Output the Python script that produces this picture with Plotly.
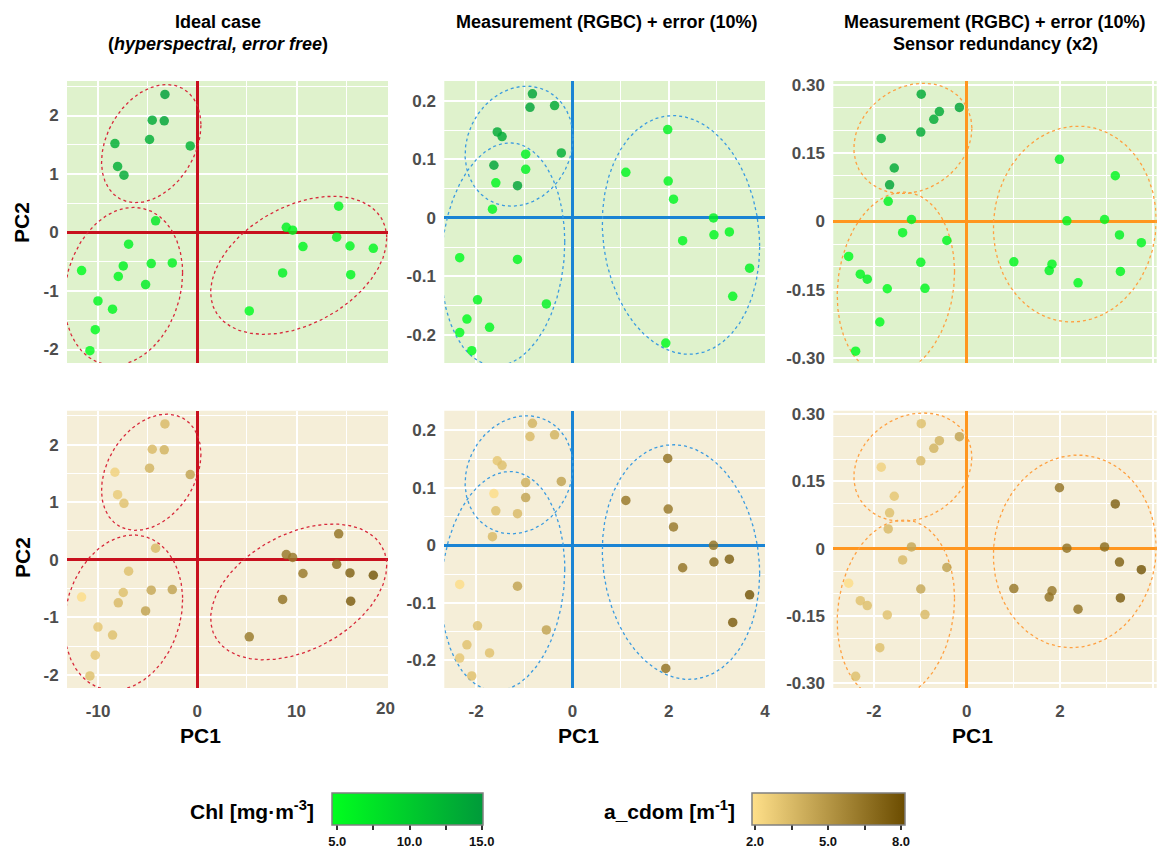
import numpy as np
import plotly.graph_objects as go

# ---------------- data ----------------
# Panel 1: Ideal case (hyperspectral, error free)
p1_pc1 = [-3.26, -4.54, -3.33, -4.81, -8.30, -0.71, -8.03, -7.39,
          -4.20, -6.92, -11.66, -7.46, -4.64, -2.52, -7.96, -5.21, -10.01, -8.54, -10.28, -10.82,
          14.25, 8.97, 9.61, 10.65, 14.05, 15.39, 17.74, 8.60, 15.46, 5.24]
p1_pc2 = [2.36, 1.92, 1.91, 1.59, 1.52, 1.48, 1.13, 0.98,
          0.20, -0.20, -0.65, -0.57, -0.53, -0.52, -0.75, -0.89, -1.17, -1.31, -1.66, -2.02,
          0.45, 0.09, 0.04, -0.24, -0.08, -0.23, -0.27, -0.69, -0.72, -1.34]
p1_chl = [14.5, 13.5, 14.0, 13.0, 13.0, 12.5, 13.0, 13.5,
          7.0, 6.0, 5.0, 6.0, 6.0, 6.0, 5.5, 6.5, 5.5, 5.5, 5.0, 5.0,
          5.5, 6.0, 5.5, 5.5, 6.0, 5.5, 5.5, 6.0, 5.5, 5.0]
p1_cdom = [3.5, 3.5, 3.8, 3.8, 2.5, 4.5, 2.8, 3.2,
           3.5, 3.3, 2.0, 3.3, 4.3, 4.5, 3.5, 4.5, 3.0, 3.3, 3.0, 3.3,
           6.5, 6.3, 6.3, 6.3, 6.8, 7.3, 7.8, 6.5, 7.5, 6.2]

# Panel 2: Measurement (RGBC) + error (10%)
p2_pc1 = [-0.83, -0.88, -0.37, -1.56, -1.46, -0.23, -1.63, -1.14,
          -0.97, -0.97, -1.59, -1.66, -2.34, -1.14, -1.97, -0.54, -2.19, -1.72, -2.34, -2.09,
          1.98, 1.11, 1.99, 2.10, 2.93, 2.94, 3.26, 2.29, 3.68, 3.33, 1.94]
p2_pc2 = [0.212, 0.189, 0.192, 0.147, 0.139, 0.111, 0.090, 0.055,
          0.109, 0.083, 0.060, 0.015, -0.068, -0.071, -0.140, -0.147, -0.173, -0.187, -0.196, -0.227,
          0.151, 0.078, 0.063, 0.032, 0.000, -0.029, -0.024, -0.039, -0.086, -0.134, -0.214]
p2_chl = [14.0, 14.0, 13.5, 13.5, 13.5, 13.0, 14.0, 14.0,
          6.0, 6.0, 5.5, 5.5, 5.0, 5.5, 5.5, 6.0, 5.0, 5.5, 5.0, 5.0,
          6.0, 5.5, 5.5, 5.5, 6.0, 5.5, 5.5, 5.5, 6.0, 5.5, 5.0]
p2_cdom = [3.8, 3.5, 3.8, 3.0, 3.3, 4.5, 2.0, 3.5,
           4.0, 4.5, 3.3, 3.5, 2.0, 4.5, 3.3, 4.5, 3.2, 3.2, 3.0, 3.2,
           6.5, 6.3, 6.3, 6.3, 6.5, 6.8, 7.3, 6.5, 7.8, 7.5, 6.5]

# Panel 3: Measurement (RGBC) + error (10%), sensor redundancy (x2)
p3_pc1 = [-0.98, -0.16, -0.59, -0.71, -0.99, -1.84, -1.56, -1.66,
          -1.69, -1.19, -1.38, -0.43, -2.54, -0.99, -2.29, -2.14, -1.71, -0.90, -1.87, -2.39,
          1.99, 3.19, 2.15, 2.96, 3.28, 3.75, 1.01, 1.83, 1.77, 3.30, 2.39]
p3_pc2 = [0.279, 0.250, 0.241, 0.224, 0.196, 0.182, 0.117, 0.080,
          0.044, 0.004, -0.025, -0.042, -0.077, -0.090, -0.116, -0.127, -0.148, -0.147, -0.221, -0.285,
          0.136, 0.100, 0.001, 0.004, -0.030, -0.047, -0.089, -0.094, -0.108, -0.110, -0.135]
p3_chl = [13.5, 14.0, 13.5, 13.5, 13.5, 13.0, 13.5, 14.0,
          6.0, 6.0, 5.5, 5.5, 5.0, 5.5, 5.5, 6.0, 5.0, 5.5, 5.0, 5.0,
          6.0, 5.5, 5.5, 5.5, 6.0, 5.5, 5.5, 5.5, 6.0, 5.5, 5.0]
p3_cdom = [3.3, 4.5, 3.8, 3.8, 3.5, 2.5, 3.0, 3.3,
           3.5, 4.3, 3.5, 4.5, 2.0, 4.3, 3.2, 3.3, 3.2, 3.5, 3.3, 3.3,
           6.5, 7.3, 6.5, 6.8, 7.3, 7.8, 6.3, 6.3, 6.5, 7.5, 6.5]

# Ellipse specs per panel: (centre x, centre y, half-width x, half-height y, tilt correlation)
p1_ellipses = [(-4.64, 1.52, 5.01, 1.01, 0.31), (-7.44, -0.92, 5.96, 1.35, 0.17), (10.22, -0.56, 8.87, 1.18, 0.39)]
p2_ellipses = [(-1.107, 0.1226, 1.121, 0.1026, 0.14), (-1.441, -0.0624, 1.283, 0.1907, 0.11), (2.255, -0.0291, 1.634, 0.204, -0.10)]
p3_ellipses = [(-1.16, 0.182, 1.268, 0.121, 0.18), (-1.525, -0.137, 1.261, 0.201, 0.13), (2.32, -0.006, 1.75, 0.215, 0.04)]

title_lines = [["<b>Ideal case</b>", "<b>(<i>hyperspectral, error free</i>)</b>"],
               ["<b>Measurement (RGBC) + error (10%)</b>"],
               ["<b>Measurement (RGBC) + error (10%)</b>", "<b>Sensor redundancy (x2)</b>"]]

x_ticks = [[-10, 0, 10, 20], [-2, 0, 2, 4], [-2, 0, 2, 4]]
x_ticktext = [["-10", "0", "10", "20"], ["-2", "0", "2", "4"], ["-2", "0", "2", "4"]]
y_ticks = [[-2, -1, 0, 1, 2], [-0.2, -0.1, 0, 0.1, 0.2], [-0.3, -0.15, 0, 0.15, 0.3]]
y_ticktext = [["-2", "-1", "0", "1", "2"], ["-0.2", "-0.1", "0", "0.1", "0.2"], ["-0.30", "-0.15", "0", "0.15", "0.30"]]

chl_ticks = [5, 7.5, 10, 12.5, 15]
chl_ticktext = ["5.0", " ", "10.0", " ", "15.0"]
cdom_ticks = [2, 3.5, 5, 6.5, 8]
cdom_ticktext = ["2.0", " ", "5.0", " ", "8.0"]

# ---------------- layout constants ----------------
W, H = 1158, 850
def fx(p): return p / W
def fy(p): return 1 - p / H

col_px = [(67, 388), (444.3, 765), (833.3, 1156.7)]
row_px = [(81, 363), (410.7, 688)]
x_ranges = [[-13.13, 19.22], [-2.66, 4.0], [-2.87, 4.08]]
y_ranges = [[-2.23, 2.59], [-0.248, 0.234], [-0.311, 0.308]]
x_minor = [5, 1, 1]
y_minor = [0.5, 0.05, 0.05]
axis_colors = ["#C8101E", "#1A84D4", "#FF961F"]
ell_colors = ["#D8283A", "#3A9BE0", "#FFA040"]
bg_colors = ["#DFF2CC", "#F5EED8"]

green_scale = [[0, "#00FF1E"], [1, "#009A3A"]]
brown_scale = [[0, "#FFE08A"], [1, "#6B4C00"]]

FONT = "Liberation Sans, Arial, sans-serif"
NARROW = "Liberation Sans Narrow, Arial Narrow, Liberation Sans, sans-serif"

panels = [
    (p1_pc1, p1_pc2, p1_chl, p1_cdom, p1_ellipses),
    (p2_pc1, p2_pc2, p2_chl, p2_cdom, p2_ellipses),
    (p3_pc1, p3_pc2, p3_chl, p3_cdom, p3_ellipses),
]

fig = go.Figure()
layout = dict(
    width=W, height=H, margin=dict(l=0, r=0, t=0, b=0, autoexpand=False),
    paper_bgcolor="white", plot_bgcolor="rgba(0,0,0,0)", showlegend=False,
    annotations=[], shapes=[],
)

t = np.linspace(0, 2 * np.pi, 400)

for r in range(2):
    for c in range(3):
        idx = r * 3 + c + 1
        sx = "" if idx == 1 else str(idx)
        pc1, pc2, chl, cdom, ells = panels[c]
        for (cx, cy, wx, wy, rho) in ells:
            d = np.arccos(rho)
            fig.add_trace(go.Scatter(
                x=cx + wx * np.cos(t), y=cy + wy * np.cos(t + d),
                mode="lines", line=dict(color=ell_colors[c], width=1.3, dash="dot"),
                hoverinfo="skip", xaxis="x" + sx, yaxis="y" + sx))
        fig.add_trace(go.Scatter(
            x=pc1, y=pc2, mode="markers",
            marker=dict(size=9.5, color=chl if r == 0 else cdom,
                        coloraxis="coloraxis" if r == 0 else "coloraxis2",
                        opacity=0.82, line=dict(width=0)),
            xaxis="x" + sx, yaxis="y" + sx))
        layout["xaxis" + sx] = dict(
            domain=[fx(col_px[c][0]), fx(col_px[c][1])], range=x_ranges[c],
            anchor="y" + sx, tickmode="array", tickvals=x_ticks[c], ticktext=x_ticktext[c],
            showticklabels=(r == 1), ticks="outside", ticklen=8, tickcolor="rgba(0,0,0,0)",
            tickfont=dict(family=FONT, size=17, color="#4D4D4D", weight=700),
            showgrid=True, gridcolor="white", gridwidth=1.6,
            minor=dict(tickmode="linear", tick0=0, dtick=x_minor[c], showgrid=True,
                       gridcolor="white", gridwidth=1.0, ticks=""),
            zeroline=True, zerolinecolor=axis_colors[c], zerolinewidth=3,
            showline=False, fixedrange=True)
        layout["yaxis" + sx] = dict(
            domain=[fy(row_px[r][1]), fy(row_px[r][0])], range=y_ranges[c],
            anchor="x" + sx, tickmode="array", tickvals=y_ticks[c], ticktext=y_ticktext[c],
            ticks="outside", ticklen=4, tickcolor="rgba(0,0,0,0)",
            tickfont=dict(family=FONT, size=17, color="#4D4D4D", weight=700),
            showgrid=True, gridcolor="white", gridwidth=1.6,
            minor=dict(tickmode="linear", tick0=0, dtick=y_minor[c], showgrid=True,
                       gridcolor="white", gridwidth=1.0, ticks=""),
            zeroline=True, zerolinecolor=axis_colors[c], zerolinewidth=3,
            showline=False, fixedrange=True)
        layout["shapes"].append(dict(
            type="rect", xref="x" + sx + " domain", yref="y" + sx + " domain",
            x0=0, x1=1, y0=0, y1=1, fillcolor=bg_colors[r], line=dict(width=0), layer="below"))

# column titles
title_x = [218, 607, 995]
for c in range(3):
    for k, line in enumerate(title_lines[c]):
        layout["annotations"].append(dict(
            text=line, x=fx(title_x[c]), y=fy(22 + 22 * k), xref="paper", yref="paper",
            xanchor="center", yanchor="middle", showarrow=False,
            font=dict(family=FONT, size=18, color="black")))

# axis titles
for xp in [200, 578, 972]:
    layout["annotations"].append(dict(
        text="<b>PC1</b>", x=fx(xp), y=fy(735), xref="paper", yref="paper",
        xanchor="center", yanchor="middle", showarrow=False,
        font=dict(family=FONT, size=21, color="black")))
for yp in [223, 558]:
    layout["annotations"].append(dict(
        text="<b>PC2</b>", x=fx(22), y=fy(yp), xref="paper", yref="paper",
        xanchor="center", yanchor="middle", showarrow=False, textangle=-90,
        font=dict(family=FONT, size=21, color="black")))
# the "20" label of the first column sits at the panel edge
layout["annotations"].append(dict(
    text="20", x=fx(385), y=fy(708), xref="paper", yref="paper",
    xanchor="center", yanchor="middle", showarrow=False,
    font=dict(family=FONT, size=17, color="#4D4D4D", weight=700)))

# colour bars
layout["coloraxis"] = dict(
    colorscale=green_scale, cmin=4.6, cmax=15.05,
    colorbar=dict(orientation="h", x=fx(407), xanchor="center", y=fy(793), yanchor="top",
                  len=151, lenmode="pixels", thickness=32, thicknessmode="pixels",
                  xpad=0, ypad=0, outlinewidth=1.5, outlinecolor="#808080",
                  tickmode="array", tickvals=chl_ticks, ticktext=chl_ticktext,
                  ticks="outside", ticklen=5, tickwidth=1.5, tickcolor="#333333",
                  tickfont=dict(family=NARROW, size=13, color="#111111", weight=700)))
layout["coloraxis2"] = dict(
    colorscale=brown_scale, cmin=1.877, cmax=8.164,
    colorbar=dict(orientation="h", x=fx(828.5), xanchor="center", y=fy(793), yanchor="top",
                  len=153, lenmode="pixels", thickness=32, thicknessmode="pixels",
                  xpad=0, ypad=0, outlinewidth=1.5, outlinecolor="#808080",
                  tickmode="array", tickvals=cdom_ticks, ticktext=cdom_ticktext,
                  ticks="outside", ticklen=5, tickwidth=1.5, tickcolor="#333333",
                  tickfont=dict(family=NARROW, size=13, color="#111111", weight=700)))
layout["annotations"].append(dict(
    text="<b>Chl [mg·m<sup>-3</sup>]</b>", x=fx(316), y=fy(810), xref="paper", yref="paper",
    xanchor="right", yanchor="middle", showarrow=False,
    font=dict(family=NARROW, size=21, color="black")))
layout["annotations"].append(dict(
    text="<b>a_cdom [m<sup>-1</sup>]</b>", x=fx(737), y=fy(810), xref="paper", yref="paper",
    xanchor="right", yanchor="middle", showarrow=False,
    font=dict(family=NARROW, size=21, color="black")))

fig.update_layout(**layout)
fig.write_html("out.html")
